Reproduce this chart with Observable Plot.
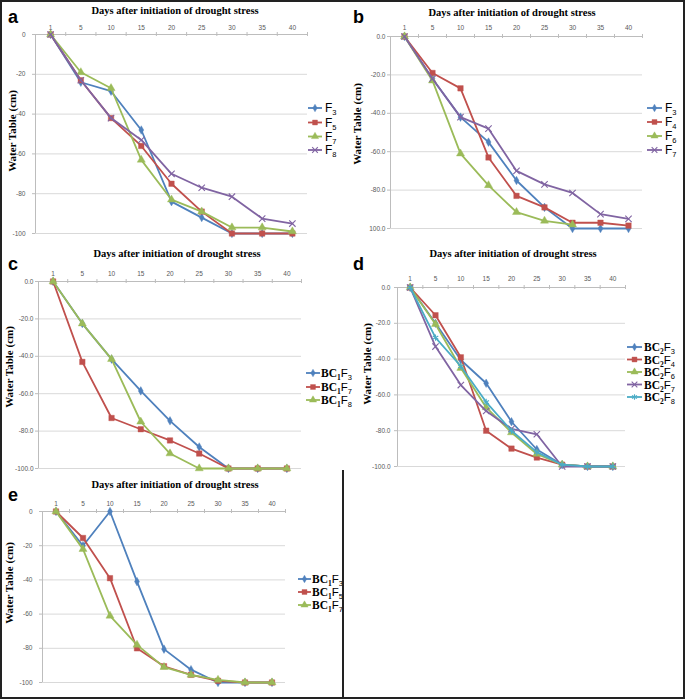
<!DOCTYPE html>
<html><head><meta charset="utf-8">
<script src="https://cdn.jsdelivr.net/npm/d3@7"></script>
<script src="https://cdn.jsdelivr.net/npm/@observablehq/plot@0.6"></script>
<style>
body{margin:0;background:#fff;}
#fig{position:relative;width:685px;height:699px;overflow:hidden;background:#fff;}
#fig svg.panel{position:absolute;}
</style>
</head><body>
<div id="fig"></div>
<script>
// ---------------- data ----------------
const days = [1, 5, 10, 15, 20, 25, 30, 35, 40];
const yTicks = [0, -20, -40, -60, -80, -100];
const yLabelsInt = ["0", "-20", "-40", "-60", "-80", "-100"];
const yLabelsDec = ["0.0", "-20.0", "-40.0", "-60.0", "-80.0", "-100.0"];
const yLabelsB = ["0.0", "-20.0", "-40.0", "-60.0", "-80.0", "100.0"];
const xTitle = "Days after initiation of drought stress";
const yTitle = "Water Table (cm)";

// panel a
const aNames = ["F3", "F5", "F7", "F8"];
const aF3 = [0, -24, -28.5, -48, -84, -92, -100, -100, -100];
const aF5 = [0, -23, -42, -56, -75, -89, -100, -100, -100];
const aF7 = [0, -19, -27, -63, -83, -89, -97, -97, -99];
const aF8 = [0, -23, -42, -53, -70, -77, -81.5, -92.5, -95];
// panel b
const bNames = ["F3", "F4", "F6", "F7"];
const bF3 = [0, -22, -42, -55, -75, -89, -100, -100, -100];
const bF4 = [0, -19, -27, -63, -83, -89, -97, -97, -98.5];
const bF6 = [0, -23, -61, -77.5, -91.5, -96, -98, null, null];
const bF7 = [0, -22, -42, -48, -70, -77, -81.5, -92.5, -95];
// panel c
const cNames = ["BC1F3", "BC1F7", "BC1F8"];
const cBC1F3 = [0, -22.5, -41.5, -58.5, -74.5, -88.5, -100, -100, -100];
const cBC1F7 = [0, -43, -73, -79, -85, -92, -100, -100, -100];
const cBC1F8 = [0, -22.5, -41.5, -75, -92, -100, -100, -100, -100];
// panel d
const dNames = ["BC2F3", "BC2F4", "BC2F6", "BC2F7", "BC2F8"];
const dBC2F3 = [0, -20, -40.5, -53.5, -75, -90.5, -99, -100, -100];
const dBC2F4 = [0, -15.5, -39, -80, -90, -95, -99, -100, -100];
const dBC2F6 = [0, -20.5, -45, -67, -81, -93, -99, -100, -100];
const dBC2F7 = [0, -33, -54.5, -69, -79, -82, -100, -100, -100];
const dBC2F8 = [0, -28, -44, -64, -80, -92, -99, -100, -100];
// panel e
const eNames = ["BC1F3", "BC1F5", "BC1F7"];
const eBC1F3 = [0, -20, 0, -41, -80.5, -92.5, -100, -100, -100];
const eBC1F5 = [0, -15.5, -39, -80, -90.5, -95.5, -99, -100, -100];
const eBC1F7 = [0, -22, -61, -78, -91, -95.5, -98.5, -100, -100];

// ---------------- styles ----------------
const STYLE = [
  {color: "#4F81BD", symbol: "diamond", d3sym: d3.symbolDiamond, r: 2.6, filled: true},
  {color: "#C0504D", symbol: "square", d3sym: d3.symbolSquare, r: 3.1, filled: true},
  {color: "#9BBB59", symbol: "triangle", d3sym: d3.symbolTriangle, r: 3.0, filled: true},
  {color: "#8064A2", symbol: "times", d3sym: d3.symbolTimes, r: 3.0, filled: false},
  {color: "#4BACC6", symbol: "asterisk", d3sym: d3.symbolAsterisk, r: 3.0, filled: false}
];
const AXIS = "#bdbdbd", GRID = "#d9d9d9", TICKTXT = "#595959";

const panels = [
  {ch: "a", names: aNames, series: [aF3, aF5, aF7, aF8], yLabels: yLabelsInt,
   ox: 0, oy: 0, L: 35, R: 307, T: 34, B: 233, xpad: 5, ypad: 7,
   title: [175, 13.5], letter: [8, 23.3], ytitle: [11.5, 131],
   legend: {x1: 308, x2: 322, tx: 325, ys: [108, 122.5, 136.5, 150]}},
  {ch: "b", names: bNames, series: [bF3, bF4, bF6, bF7], yLabels: yLabelsB,
   ox: 340, oy: 0, L: 390, R: 642, T: 36, B: 228, xpad: 7, ypad: 2,
   title: [512, 15.5], letter: [353, 22.7], ytitle: [357, 124],
   legend: {x1: 647, x2: 662, tx: 665, ys: [108, 122, 136, 150]}},
  {ch: "c", names: cNames, series: [cBC1F3, cBC1F7, cBC1F8], yLabels: yLabelsDec,
   ox: 0, oy: 240, L: 38, R: 301, T: 281, B: 468, xpad: 6, ypad: 2,
   title: [177, 256.7], letter: [8, 270], ytitle: [8.5, 367],
   legend: {x1: 306, x2: 320, tx: 321, ys: [373, 387, 400]}},
  {ch: "d", names: dNames, series: [dBC2F3, dBC2F4, dBC2F6, dBC2F7, dBC2F8], yLabels: yLabelsDec,
   ox: 340, oy: 240, L: 397, R: 625, T: 287, B: 466, xpad: 7, ypad: 4,
   title: [513, 256.5], letter: [353, 270], ytitle: [367, 364],
   legend: {x1: 627, x2: 642, tx: 644, ys: [347, 359.5, 372, 384.5, 397]}},
  {ch: "e", names: eNames, series: [eBC1F3, eBC1F5, eBC1F7], yLabels: yLabelsInt,
   ox: 0, oy: 470, L: 42, R: 285, T: 511, B: 682, xpad: 6, ypad: 7,
   title: [175, 488], letter: [8, 500.5], ytitle: [9, 583],
   legend: {x1: 298, x2: 311, tx: 312, ys: [579, 592, 605]}}
];

const fig = document.getElementById("fig");
const idx = d3.range(days.length);
const xDom = [-0.5, days.length - 0.5];
const bounds = d3.range(days.length + 1).map(i => i - 0.5);

for (const p of panels) {
  const width = p.R - p.ox + 6, height = p.B - p.oy + 6;
  const marks = [
    Plot.ruleY(yTicks.filter(t => t !== 0), {stroke: GRID, strokeWidth: 1}),
    Plot.ruleY([0], {stroke: AXIS}),
    Plot.ruleX([xDom[0]], {stroke: AXIS}),
    Plot.ruleX(bounds.slice(1), {y1: 0, y2: 0, insetTop: -2, insetBottom: -2, stroke: AXIS}),
    Plot.axisX(idx, {anchor: "top", tickSize: 0, tickPadding: p.xpad, fontSize: 6.5, fill: TICKTXT,
      tickFormat: i => String(days[i]), label: null}),
    Plot.axisY(yTicks, {anchor: "left", tickSize: 3, tickPadding: p.ypad, stroke: AXIS, fill: TICKTXT,
      fontSize: 6.5, tickFormat: d => p.yLabels[yTicks.indexOf(d)], label: null})
  ];
  p.series.forEach((vals, k) => {
    const st = STYLE[k];
    const data = idx.filter(i => vals[i] != null).map(i => ({i, v: vals[i]}));
    marks.push(Plot.line(data, {x: "i", y: "v", stroke: st.color, strokeWidth: 1.8}));
    marks.push(Plot.dot(data, {x: "i", y: "v", symbol: st.symbol, r: st.r,
      fill: st.filled ? st.color : "none", stroke: st.color, strokeWidth: st.filled ? 0.4 : 1.1}));
  });
  const svg = Plot.plot({
    width, height,
    marginLeft: p.L - p.ox, marginRight: width - (p.R - p.ox),
    marginTop: p.T - p.oy, marginBottom: height - (p.B - p.oy),
    x: {type: "linear", domain: xDom},
    y: {type: "linear", domain: [-100, 0]},
    style: {background: "transparent", overflow: "visible", fontFamily: "Liberation Sans"},
    marks
  });
  svg.classList.add("panel");
  svg.style.left = p.ox + "px";
  svg.style.top = p.oy + "px";
  fig.appendChild(svg);
}

// ---------------- annotations (titles, letters, legends, frame) ----------------
const ov = d3.select(fig).append("svg")
  .attr("width", 685).attr("height", 699)
  .style("position", "absolute").style("left", "0px").style("top", "0px")
  .style("overflow", "visible");

function legendLabel(sel, name, x, y) {
  const m = name.match(/^(BC)?(\d)?F(\d)$/);
  const t = sel.append("text").attr("x", x).attr("y", y + 4.2).attr("fill", "#000");
  let dy = 0;
  if (m[1]) {
    t.append("tspan").text("BC").attr("font-family", "Liberation Serif").attr("font-weight", "bold").attr("font-size", 11.5);
    t.append("tspan").text(m[2]).attr("font-family", "Liberation Serif").attr("font-weight", "bold").attr("font-size", 7.5).attr("dy", 3);
    dy = -3;
  }
  t.append("tspan").text("F").attr("font-family", "Liberation Sans").attr("font-size", m[1] ? 11.5 : 12).attr("dy", dy);
  t.append("tspan").text(m[3]).attr("font-family", "Liberation Sans").attr("font-size", 7.5).attr("dy", 3);
}

for (const p of panels) {
  ov.append("text").attr("x", p.title[0]).attr("y", p.title[1]).attr("text-anchor", "middle")
    .attr("font-family", "Liberation Serif").attr("font-weight", "bold").attr("font-size", 10.5).text(xTitle);
  ov.append("text").attr("x", p.letter[0]).attr("y", p.letter[1])
    .attr("font-family", "Liberation Sans").attr("font-weight", "bold").attr("font-size", 18).text(p.ch);
  ov.append("text").attr("transform", `translate(${p.ytitle[0]},${p.ytitle[1]}) rotate(-90)`)
    .attr("text-anchor", "middle").attr("dominant-baseline", "central")
    .attr("font-family", "Liberation Serif").attr("font-weight", "bold").attr("font-size", 11).text(yTitle);
  p.names.forEach((name, k) => {
    const st = STYLE[k], y = p.legend.ys[k];
    ov.append("line").attr("x1", p.legend.x1).attr("x2", p.legend.x2).attr("y1", y).attr("y2", y)
      .attr("stroke", st.color).attr("stroke-width", 1.8);
    ov.append("path").attr("d", d3.symbol(st.d3sym, Math.PI * st.r * st.r * 0.8)())
      .attr("transform", `translate(${(p.legend.x1 + p.legend.x2) / 2},${y})`)
      .attr("fill", st.filled ? st.color : "none").attr("stroke", st.color).attr("stroke-width", st.filled ? 0.4 : 1.1);
    legendLabel(ov, name, p.legend.tx, y);
  });
}
// frame
ov.append("rect").attr("x", 1).attr("y", 1).attr("width", 683).attr("height", 697)
  .attr("fill", "none").attr("stroke", "#222").attr("stroke-width", 2);
ov.append("line").attr("x1", 343).attr("x2", 343).attr("y1", 470).attr("y2", 699)
  .attr("stroke", "#222").attr("stroke-width", 2);
</script>
</body></html>
